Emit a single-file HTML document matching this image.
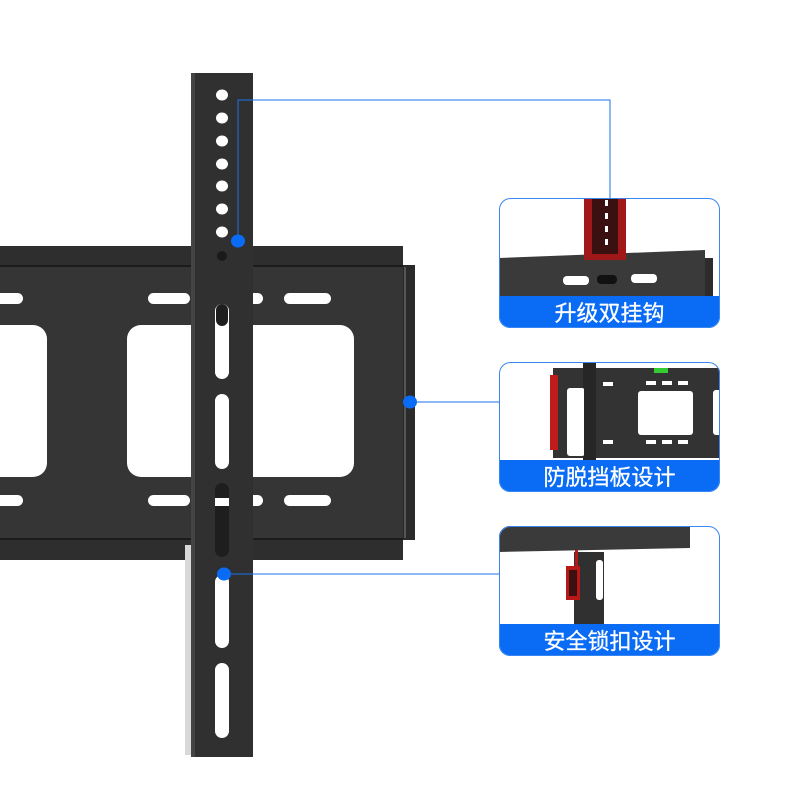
<!DOCTYPE html>
<html><head><meta charset="utf-8"><style>
body{margin:0;background:#fff;width:800px;height:800px;overflow:hidden}
svg{display:block}
text{font-family:"Liberation Sans","Noto Sans CJK SC",sans-serif}
</style></head><body>
<svg width="800" height="800" viewBox="0 0 800 800" xmlns="http://www.w3.org/2000/svg">
<defs>
<clipPath id="c1"><rect x="499" y="198" width="221" height="130" rx="11"/></clipPath>
<clipPath id="c2"><rect x="499" y="362" width="221" height="130" rx="11"/></clipPath>
<clipPath id="c3"><rect x="499" y="526" width="221" height="130" rx="11"/></clipPath>
</defs>
<rect x="0" y="246" width="403" height="314" fill="#2e2e2e"/>
<rect x="0" y="267" width="403" height="271" fill="#353535"/>
<line x1="0" y1="266" x2="403" y2="266" fill="none" stroke="#1c1c1c" stroke-width="2"/>
<line x1="0" y1="539" x2="403" y2="539" stroke="#1c1c1c" stroke-width="2"/>
<rect x="403" y="265" width="12" height="275" fill="#2a2a2a"/>
<rect x="404" y="267" width="2" height="271" fill="#555"/>
<g fill="#fff">
<rect x="-10" y="293" width="33" height="11" rx="5.5"/>
<rect x="148" y="293" width="42" height="11" rx="5.5"/>
<rect x="248" y="293" width="15" height="11" rx="5.5"/>
<rect x="284" y="293" width="47" height="11" rx="5.5"/>
<rect x="-10" y="495" width="33" height="11" rx="5.5"/>
<rect x="148" y="495" width="42" height="11" rx="5.5"/>
<rect x="248" y="495" width="15" height="11" rx="5.5"/>
<rect x="284" y="495" width="47" height="11" rx="5.5"/>
<rect x="-20" y="325" width="67" height="152" rx="14"/>
<rect x="127" y="325" width="227" height="152" rx="14"/>
</g>
<rect x="185" y="545" width="8" height="210" fill="#d8d8d8"/>
<rect x="191" y="73" width="62" height="684" fill="#303030"/>
<rect x="191" y="73" width="4" height="684" fill="#444"/>
<g fill="#fff">
<ellipse cx="222" cy="95" rx="6" ry="5.5"/><ellipse cx="222" cy="118" rx="6" ry="5.5"/>
<ellipse cx="222" cy="141" rx="6" ry="5.5"/><ellipse cx="222" cy="164" rx="6" ry="5.5"/>
<ellipse cx="222" cy="186" rx="6" ry="5.5"/><ellipse cx="222" cy="209" rx="6" ry="5.5"/>
<ellipse cx="222" cy="232" rx="6" ry="5.5"/>
<rect x="215" y="304" width="14" height="75" rx="7"/>
<rect x="215" y="394" width="14" height="75" rx="7"/>
<rect x="215" y="575" width="14" height="73" rx="7"/>
<rect x="215" y="663" width="14" height="75" rx="7"/>
</g>
<rect x="216" y="304" width="12" height="22" rx="6" fill="#1e1e1e"/>
<rect x="215" y="483" width="14" height="74" rx="7" fill="#1e1e1e"/>
<rect x="215" y="498" width="14" height="8" fill="#fff"/>
<ellipse cx="222" cy="256" rx="5" ry="5" fill="#1a1a1a"/>
<g stroke="#1a73e8" stroke-width="1" fill="none">
<polyline points="238,241 238,100 610,100 610,198"/>
<line x1="410" y1="402" x2="499" y2="402"/>
<line x1="224" y1="574" x2="499" y2="574"/>
</g>
<g fill="#0a6cf5">
<ellipse cx="238" cy="241" rx="7" ry="6.5"/>
<ellipse cx="410" cy="402" rx="7" ry="6.5"/>
<ellipse cx="224" cy="574" rx="7" ry="6.5"/>
</g>
<g clip-path="url(#c1)">
<rect x="499" y="198" width="221" height="130" fill="#fff"/>
<polygon points="499,258 705,250 705,300 499,300" fill="#3a3a3a"/>
<rect x="705" y="258" width="8" height="42" fill="#2c2c2c"/>
<rect x="584" y="198" width="42" height="62" fill="#a01818"/>
<rect x="592" y="198" width="26" height="56" fill="#3a1010"/>
<g fill="#fff"><rect x="605" y="200" width="3" height="6"/><rect x="605" y="213" width="3" height="6"/><rect x="605" y="226" width="3" height="6"/><rect x="605" y="239" width="3" height="6"/></g>
<g fill="#fff"><rect x="563" y="276" width="26" height="9" rx="4"/><rect x="631" y="274" width="26" height="9" rx="4"/></g>
<rect x="597" y="275" width="20" height="9" rx="4" fill="#111"/>
<rect x="499" y="296" width="221" height="32" fill="#0a6cf5"/>
</g>
<rect x="499.5" y="198.5" width="220" height="129" rx="11" fill="none" stroke="#3a86f0"/>
<text x="609.5" y="321" font-size="22" fill="#fff" text-anchor="middle" stroke="#fff" stroke-width="0.3">升级双挂钩</text>
<g clip-path="url(#c2)">
<rect x="499" y="362" width="221" height="130" fill="#fff"/>
<rect x="553" y="368" width="170" height="90" fill="#333"/>
<rect x="550" y="375" width="8" height="75" fill="#c01c1c"/>
<rect x="583" y="362" width="13" height="98" fill="#262626"/>
<g fill="#fff"><rect x="567" y="388" width="18" height="68" rx="3"/><rect x="638" y="391" width="55" height="44" rx="3"/><rect x="713" y="390" width="10" height="45" rx="3"/></g>
<g fill="#fff"><rect x="646" y="381" width="10" height="4"/><rect x="662" y="381" width="10" height="4"/><rect x="678" y="381" width="10" height="4"/><rect x="646" y="440" width="10" height="4"/><rect x="662" y="440" width="10" height="4"/><rect x="678" y="440" width="10" height="4"/><rect x="603" y="382" width="10" height="4"/><rect x="603" y="440" width="10" height="4"/></g>
<rect x="584" y="388" width="11" height="68" fill="#262626"/>
<rect x="654" y="368" width="14" height="5" fill="#3c3"/>
<rect x="499" y="460" width="221" height="32" fill="#0a6cf5"/>
</g>
<rect x="499.5" y="362.5" width="220" height="129" rx="11" fill="none" stroke="#3a86f0"/>
<text x="609.5" y="485" font-size="22" fill="#fff" text-anchor="middle" stroke="#fff" stroke-width="0.3">防脱挡板设计</text>
<g clip-path="url(#c3)">
<rect x="499" y="526" width="221" height="130" fill="#fff"/>
<polygon points="499,526 690,526 690,548 499,552" fill="#3a3a3a"/>
<rect x="574" y="552" width="30" height="74" fill="#303030"/>
<rect x="596" y="560" width="7" height="40" rx="3" fill="#fff"/>
<rect x="566" y="566" width="14" height="34" fill="#b81818"/>
<rect x="569" y="570" width="8" height="26" fill="#3a1010"/>
<rect x="575" y="550" width="3" height="16" fill="#b81818"/>
<rect x="499" y="624" width="221" height="32" fill="#0a6cf5"/>
</g>
<rect x="499.5" y="526.5" width="220" height="129" rx="11" fill="none" stroke="#3a86f0"/>
<text x="609.5" y="649" font-size="22" fill="#fff" text-anchor="middle" stroke="#fff" stroke-width="0.3">安全锁扣设计</text>
</svg>
</body></html>
